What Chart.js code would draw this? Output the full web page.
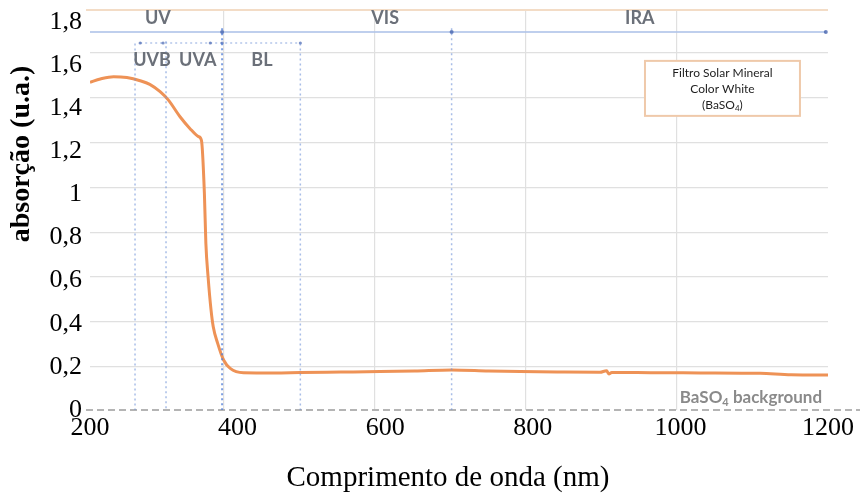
<!DOCTYPE html>
<html>
<head>
<meta charset="utf-8">
<script src="https://cdn.jsdelivr.net/npm/chart.js@4.4.1/dist/chart.umd.min.js"></script>
<style>
  html, body { margin: 0; background: #fff; }
  #wrap { width: 860px; height: 497px; }
</style>
</head>
<body>
<div id="wrap"><canvas id="grafico"></canvas></div>
<script>
// ==================== DADOS ====================

// espectro de absorção do filtro (nm → u.a.)
const comprimentos = [200, 214, 232, 250, 268, 281, 295, 306, 322, 335, 347, 351, 355, 357, 360, 364, 367, 373, 381, 390, 408, 450, 485, 540, 593, 640, 690, 740, 783, 840, 891, 900, 903, 907, 960, 1027, 1108, 1150, 1200];
const absorcao     = [1.52, 1.535, 1.546, 1.542, 1.527, 1.51, 1.476, 1.438, 1.36, 1.307, 1.268, 1.25, 1.005, 0.773, 0.618, 0.464, 0.386, 0.309, 0.232, 0.193, 0.173, 0.172, 0.174, 0.176, 0.178, 0.181, 0.186, 0.181, 0.178, 0.176, 0.175, 0.182, 0.167, 0.174, 0.173, 0.172, 0.17, 0.163, 0.162];

const ticksX = [200, 400, 600, 800, 1000, 1200];
const ticksY = [0, 0.2, 0.4, 0.6, 0.8, 1, 1.2, 1.4, 1.6, 1.8];

const tituloX = 'Comprimento de onda (nm)';
const tituloY = 'absorção (u.a.)';

// limites das regiões espectrais (nm) e até onde sobe cada linha
const divisorias = [261, 303, 379, 485, 690];
const topoDivisorias = [1.70, 1.71, 1.77, 1.70, 1.77];

// faixas horizontais com setas: UV / VIS / IRA e UVB / UVA / BL
const faixaSuperiorX = [200, 379, 690, 1197];
const faixaSuperiorY = 1.753;
const faixaInferiorX = [268, 299, 363, 379, 485];
const faixaInferiorY = 1.702;

const nomesRegioes = ['UV', 'VIS', 'IRA', 'UVB', 'UVA', 'BL'];
const posRegioes = [[292, 1.818], [600, 1.818], [945, 1.818], [284, 1.623], [346, 1.623], [433, 1.623]];

const legendaAmostra = ['Filtro Solar Mineral', 'Color White', '(BaSO', ')'];

// ==================== PLUGIN DE ANOTAÇÕES ====================

const serif = 'Liberation Serif';

const anotacoes = {
    id: 'anotacoes',
    beforeDatasetsDraw(chart) {
        const { ctx, chartArea: a } = chart;
        ctx.save();
        // borda superior da figura
        ctx.strokeStyle = '#f3dcc6';
        ctx.lineWidth = 2;
        ctx.beginPath();
        ctx.moveTo(a.left - 4, a.top);
        ctx.lineTo(a.right, a.top);
        ctx.stroke();
        // linha de base tracejada
        ctx.strokeStyle = '#b4b4b4';
        ctx.setLineDash([7, 4]);
        ctx.beginPath();
        ctx.moveTo(a.left - 4, a.bottom);
        ctx.lineTo(chart.width, a.bottom);
        ctx.stroke();
        ctx.restore();
    },
    afterDatasetsDraw(chart) {
        const { ctx } = chart;
        const sx = chart.scales.x, sy = chart.scales.y;
        ctx.save();

        // nomes das regiões
        ctx.filter = 'blur(0.5px)';
        ctx.fillStyle = '#6b7079';
        ctx.font = 'bold 18px Lato';
        ctx.textAlign = 'center';
        ctx.textBaseline = 'middle';
        nomesRegioes.forEach((t, i) => {
            ctx.fillText(t, sx.getPixelForValue(posRegioes[i][0]), sy.getPixelForValue(posRegioes[i][1]));
        });

        // BaSO4 background
        ctx.fillStyle = '#8a8a8a';
        ctx.font = 'bold 17px Lato';
        ctx.textAlign = 'right';
        const bx = sx.getPixelForValue(1192), by = sy.getPixelForValue(0.058);
        const fim = ' background';
        ctx.fillText(fim, bx, by);
        let px = bx - ctx.measureText(fim).width;
        ctx.font = 'bold 11px Lato';
        ctx.fillText('4', px, by + 5);
        px -= ctx.measureText('4').width;
        ctx.font = 'bold 17px Lato';
        ctx.fillText('BaSO', px, by);
        ctx.filter = 'none';

        // caixa da amostra
        const x0 = sx.getPixelForValue(952), x1 = sx.getPixelForValue(1162);
        const y0 = sy.getPixelForValue(1.619), y1 = sy.getPixelForValue(1.364);
        ctx.fillStyle = '#fff';
        ctx.fillRect(x0, y0, x1 - x0, y1 - y0);
        ctx.strokeStyle = '#efc9aa';
        ctx.lineWidth = 2;
        ctx.strokeRect(x0, y0, x1 - x0, y1 - y0);
        const cx = (x0 + x1) / 2;
        ctx.fillStyle = '#1e1e1e';
        ctx.font = '12px Lato';
        ctx.textAlign = 'center';
        ctx.textBaseline = 'middle';
        ctx.fillText(legendaAmostra[0], cx, y0 + 12);
        ctx.fillText(legendaAmostra[1], cx, y0 + 28);
        const wA = ctx.measureText(legendaAmostra[2]).width;
        ctx.font = '8px Lato';
        const w4 = ctx.measureText('4').width;
        ctx.font = '12px Lato';
        const wB = ctx.measureText(legendaAmostra[3]).width;
        let tx = cx - (wA + w4 + wB) / 2;
        ctx.textAlign = 'left';
        ctx.fillText(legendaAmostra[2], tx, y0 + 44);
        tx += wA;
        ctx.font = '8px Lato';
        ctx.fillText('4', tx, y0 + 48);
        tx += w4;
        ctx.font = '12px Lato';
        ctx.fillText(legendaAmostra[3], tx, y0 + 44);

        ctx.restore();
    },
    afterDraw(chart) {
        // títulos dos eixos
        const { ctx } = chart;
        ctx.save();
        ctx.fillStyle = '#000';
        ctx.textAlign = 'center';
        ctx.textBaseline = 'middle';
        ctx.font = `29px "${serif}"`;
        ctx.fillText(tituloX, 448, 478);
        ctx.translate(22, 154);
        ctx.rotate(-Math.PI / 2);
        ctx.font = `bold 28px "${serif}"`;
        ctx.fillText(tituloY, 0, 0);
        ctx.restore();
    }
};

// ==================== DATASETS ====================

const azul = 'rgba(110,145,215,0.6)';

const linhasDivisorias = divisorias.map((x, i) => ({
    data: [{ x, y: topoDivisorias[i] }, { x, y: 0 }],
    borderColor: i === 2 ? 'rgba(80,125,215,0.75)' : azul,
    borderWidth: i === 2 ? 2 : 1.5,
    borderDash: [2, 3],
    pointRadius: 0,
    showLine: true,
}));

const datasets = [
    ...linhasDivisorias,
    {
        data: faixaSuperiorX.map(x => ({ x, y: faixaSuperiorY })),
        borderColor: 'rgba(175,195,232,0.8)',
        borderWidth: 2,
        pointRadius: ctx => (ctx.dataIndex === 0 ? 0 : 2),
        pointBackgroundColor: 'rgba(70,100,175,0.8)',
        pointBorderWidth: 0,
        showLine: true,
    },
    {
        data: faixaInferiorX.map(x => ({ x, y: faixaInferiorY })),
        borderColor: 'rgba(130,160,220,0.6)',
        borderWidth: 1.5,
        borderDash: [2, 3],
        pointRadius: 1.6,
        pointBackgroundColor: 'rgba(70,100,175,0.7)',
        pointBorderWidth: 0,
        showLine: true,
    },
    {
        data: comprimentos.map((x, i) => ({ x, y: absorcao[i] })),
        borderColor: '#ee9256',
        borderWidth: 3,
        pointRadius: 0,
        showLine: true,
        cubicInterpolationMode: 'monotone',
    },
];

// ==================== GRÁFICO ====================

// tira o espaço extra que o Chart.js reserva para os rótulos das pontas
function semFolga(s) {
    s.paddingTop = 0; s.paddingBottom = 0;
    s.paddingLeft = 0; s.paddingRight = 0;
}

new Chart(document.getElementById('grafico'), {
    type: 'scatter',
    data: { datasets },
    options: {
        responsive: true,
        maintainAspectRatio: false,
        animation: false,
        layout: { padding: { top: 10, right: 32, left: 0, bottom: 0 } },
        plugins: { legend: { display: false }, tooltip: { enabled: false } },
        scales: {
            x: {
                type: 'linear', min: 200, max: 1200,
                afterBuildTicks: s => { s.ticks = ticksX.map(v => ({ value: v })); },
                afterFit: s => { semFolga(s); s.height = 87; },
                ticks: {
                    color: '#000', font: { family: serif, size: 26 }, padding: 3, maxRotation: 0,
                    callback: v => String(v)
                },
                grid: { display: false, drawTicks: false },
                border: { display: false }
            },
            y: {
                type: 'linear', min: 0, max: 1.855,
                afterBuildTicks: s => { s.ticks = ticksY.map(v => ({ value: v })); },
                afterFit: s => { semFolga(s); s.width = 90; },
                ticks: {
                    color: '#000', font: { family: serif, size: 26 }, padding: 8,
                    callback: v => String(v).replace('.', ',')
                },
                grid: { display: false, drawTicks: false },
                border: { display: false }
            },
            // grade clara da figura de fundo
            gradeX: {
                type: 'linear', position: 'top', min: -0.887, max: 4.0,
                afterBuildTicks: s => { s.ticks = [0, 1, 2, 3].map(v => ({ value: v })); },
                afterFit: s => { semFolga(s); s.height = 0; },
                ticks: { display: false },
                grid: { color: '#e0e0e0', lineWidth: 1.2, drawTicks: false },
                border: { display: false }
            },
            gradeY: {
                type: 'linear', position: 'left', min: 0.033, max: 8.962,
                afterBuildTicks: s => { s.ticks = [1, 2, 3, 4, 5, 6, 7, 8].map(v => ({ value: v })); },
                afterFit: s => { semFolga(s); s.width = 0; },
                ticks: { display: false },
                grid: { color: '#e0e0e0', lineWidth: 1.2, drawTicks: false },
                border: { display: false }
            }
        }
    },
    plugins: [anotacoes]
});
</script>
</body>
</html>
